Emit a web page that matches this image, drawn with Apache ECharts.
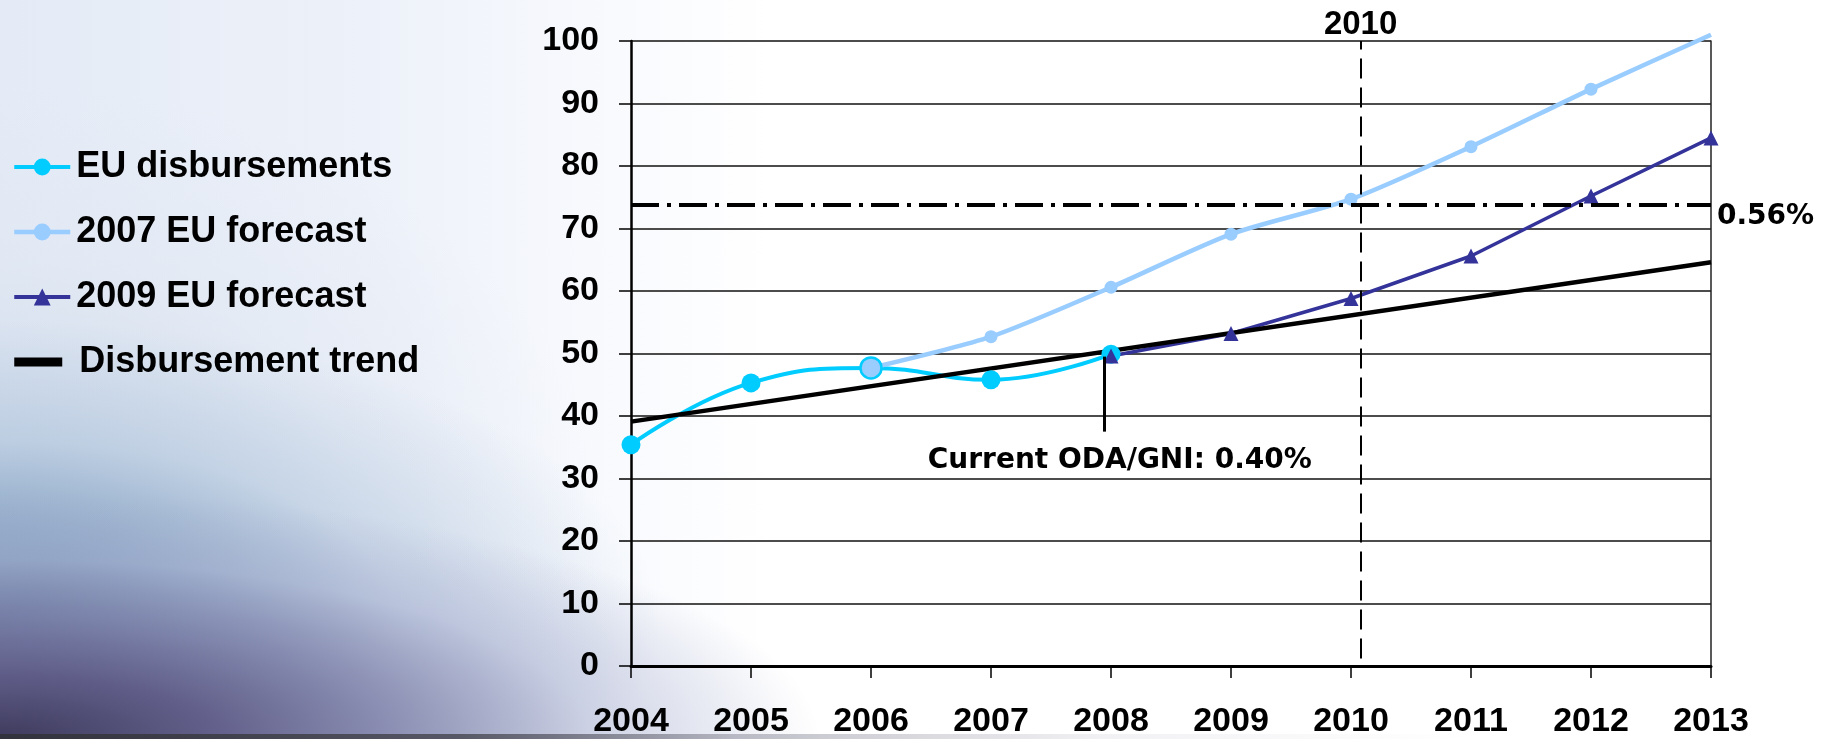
<!DOCTYPE html>
<html>
<head>
<meta charset="utf-8">
<script src="https://cdn.jsdelivr.net/npm/echarts@6/dist/echarts.min.js"></script>
<style>
  html, body { margin: 0; padding: 0; width: 1836px; height: 739px; overflow: hidden; background: #ffffff; }
  #bg { position: absolute; left: 0; top: 0; width: 1836px; height: 739px;
    background:
      radial-gradient(ellipse 820px 250px at 0% 100%, rgba(62,58,92,1) 0%, rgba(92,88,132,0.95) 25%, rgba(122,124,165,0.8) 48%, rgba(165,172,205,0.5) 72%, rgba(255,255,255,0) 100%),
      radial-gradient(ellipse 660px 300px at 0% 84%, rgba(78,115,155,0.85) 0%, rgba(110,145,182,0.65) 30%, rgba(160,185,212,0.4) 60%, rgba(255,255,255,0) 100%),
      radial-gradient(ellipse 600px 430px at 0% 70%, rgba(190,205,225,0.7) 0%, rgba(220,228,240,0.4) 60%, rgba(255,255,255,0) 100%),
      linear-gradient(to right, #e4ebf6 0%, #edf1f9 20%, #f7f9fd 32%, #ffffff 42%);
  }
  #bgfade { position: absolute; left: 0; top: 734px; width: 1836px; height: 5px;
    background: linear-gradient(to right, rgba(50,50,60,1) 0%, rgba(80,80,92,0.9) 25%, rgba(140,140,155,0.55) 40%, rgba(200,200,210,0.25) 60%, rgba(255,255,255,0) 80%); }
  #chart { position: absolute; left: 0; top: 0; width: 1836px; height: 739px; }
</style>
</head>
<body>
<div id="bg"></div>
<div id="bgfade"></div>
<div id="chart"></div>
<script>
// ---- data ----
const years = [2004, 2005, 2006, 2007, 2008, 2009, 2010, 2011, 2012, 2013];
const disbYears = [2004, 2005, 2006, 2007, 2008];
const disbursements = [35.4, 45.3, 47.7, 45.8, 49.9];
const f2007Years = [2006, 2007, 2008, 2009, 2010, 2011, 2012, 2013];
const forecast2007 = [47.7, 52.7, 60.6, 69.1, 74.7, 83.1, 92.3, 101.0];
const f2009Years = [2008, 2009, 2010, 2011, 2012, 2013];
const forecast2009 = [49.6, 53.2, 58.8, 65.6, 75.2, 84.5];
const trendYears = [2004, 2013];
const trendValues = [39.1, 64.6];
const yTicks = [0, 10, 20, 30, 40, 50, 60, 70, 80, 90, 100];
const seriesNames = ['EU disbursements', '2007 EU forecast', '2009 EU forecast', 'Disbursement trend'];
// annotations
const targetLevel = 73.8;          // 0.56% target line
const targetLabel = '0.56%';
const markYear = 2010.08;          // vertical dashed marker
const markYearLabel = '2010';
const currentYear = 2007.94;       // current ODA pointer
const currentTop = 49.5, currentBottom = 37.5;
const currentLabel = 'Current ODA/GNI: 0.40%';

const pair = (xs, vs) => xs.map((x, i) => [x, vs[i]]);

const chart = echarts.init(document.getElementById('chart'), null, { renderer: 'canvas' });
const labelFont = '"Liberation Sans", Arial, sans-serif';
const annFont = '"DejaVu Sans", Verdana, sans-serif';

const disbData = pair(disbYears, disbursements).map((p, i) =>
  i === 2 ? { value: p, symbolSize: 21, itemStyle: { color: '#99CCFF', borderColor: '#00CCFF', borderWidth: 2.5 } } : p);
const f2007Data = pair(f2007Years, forecast2007).map((p, i, arr) =>
  i === arr.length - 1 ? { value: p, symbol: 'none' } : p);

chart.setOption({
  animation: false,
  grid: { left: 631, right: 125, top: 41, bottom: 73, containLabel: false },
  legend: {
    orient: 'vertical',
    left: 12,
    top: 149,
    padding: 0,
    itemWidth: 56,
    itemHeight: 21,
    itemGap: 29,
    selectedMode: false,
    textStyle: { fontFamily: labelFont, fontWeight: 'bold', fontSize: 36, color: '#000', lineHeight: 35, padding: [0, 0, 0, 1] },
    data: [
      { name: seriesNames[0], lineStyle: { width: 4 } },
      { name: seriesNames[1], lineStyle: { width: 4.5 } },
      { name: seriesNames[2], lineStyle: { width: 4 } },
      { name: seriesNames[3], icon: 'path://M0,0H48V9H0Z M56,4.5L56.01,4.5', itemStyle: { color: '#000', borderWidth: 0 },
        textStyle: { padding: [0, 0, 0, 4] } }
    ]
  },
  xAxis: {
    type: 'value',
    min: years[0],
    max: years[years.length - 1],
    interval: 1,
    axisLine: { show: true, onZero: false, lineStyle: { color: '#000', width: 3 } },
    axisTick: { show: true, length: 12, lineStyle: { color: '#000', width: 1.5 } },
    splitLine: { show: false },
    axisLabel: {
      margin: 39,
      fontFamily: labelFont, fontWeight: 'bold', fontSize: 34, color: '#000',
      formatter: v => String(years.find(y => y === v) ?? '')
    }
  },
  yAxis: [{
    type: 'value',
    min: yTicks[0],
    max: yTicks[yTicks.length - 1],
    interval: 10,
    axisLine: { show: true, lineStyle: { color: '#000', width: 2.5 } },
    axisTick: { show: true, length: 12, lineStyle: { color: '#000', width: 1.5 } },
    splitLine: { show: true, lineStyle: { color: '#111', width: 1.7 } },
    axisLabel: {
      margin: 32,
      fontFamily: labelFont, fontWeight: 'bold', fontSize: 34, color: '#000',
      formatter: v => String(v)
    }
  }, {
    type: 'value',
    position: 'right',
    min: yTicks[0],
    max: yTicks[yTicks.length - 1],
    interval: 10,
    axisLine: { show: true, lineStyle: { color: '#222', width: 1.5 } },
    axisTick: { show: false },
    axisLabel: { show: false },
    splitLine: { show: false }
  }],
  series: [
    {
      name: seriesNames[0], type: 'line', data: disbData,
      smooth: 0.45, symbol: 'circle', symbolSize: 19,
      itemStyle: { color: '#00CCFF' },
      lineStyle: { color: '#00CCFF', width: 4 }
    },
    {
      name: seriesNames[1], type: 'line', data: f2007Data, clip: false,
      smooth: 0.25, symbol: 'circle', symbolSize: 13,
      itemStyle: { color: '#99CCFF' },
      lineStyle: { color: '#99CCFF', width: 4.5 }
    },
    {
      name: seriesNames[2], type: 'line', data: pair(f2009Years, forecast2009),
      smooth: false, symbol: 'triangle', symbolSize: 15,
      itemStyle: { color: '#333399' },
      lineStyle: { color: '#333399', width: 3.5 }
    },
    {
      name: seriesNames[3], type: 'line', data: pair(trendYears, trendValues),
      symbol: 'none',
      itemStyle: { color: '#000' },
      lineStyle: { color: '#000', width: 4.5 },
      markLine: {
        silent: true,
        symbol: ['none', 'none'],
        animation: false,
        data: [
          [
            { coord: [years[0], targetLevel], lineStyle: { color: '#000', width: 4, type: [28, 8, 4, 8] },
              label: { show: true, position: 'end', formatter: '\n' + targetLabel, distance: 6, lineHeight: 24,
                       fontFamily: annFont, fontWeight: 'bold', fontSize: 28, color: '#000' } },
            { coord: [years[years.length - 1], targetLevel] }
          ],
          [
            { coord: [markYear, yTicks[0] + 1.2], lineStyle: { color: '#000', width: 2, type: [20, 9] },
              label: { show: true, position: 'end', formatter: markYearLabel, distance: 0,
                       fontFamily: labelFont, fontWeight: 'bold', fontSize: 33, color: '#000' } },
            { coord: [markYear, yTicks[yTicks.length - 1]] }
          ],
          [
            { coord: [currentYear, currentTop], lineStyle: { color: '#000', width: 3, type: 'solid' },
              label: { show: true, position: 'end', formatter: currentLabel, distance: 15, padding: [0, 0, 0, 32],
                       fontFamily: annFont, fontWeight: 'bold', fontSize: 28, color: '#000' } },
            { coord: [currentYear, currentBottom] }
          ]
        ]
      }
    }
  ]
});
</script>
</body>
</html>
